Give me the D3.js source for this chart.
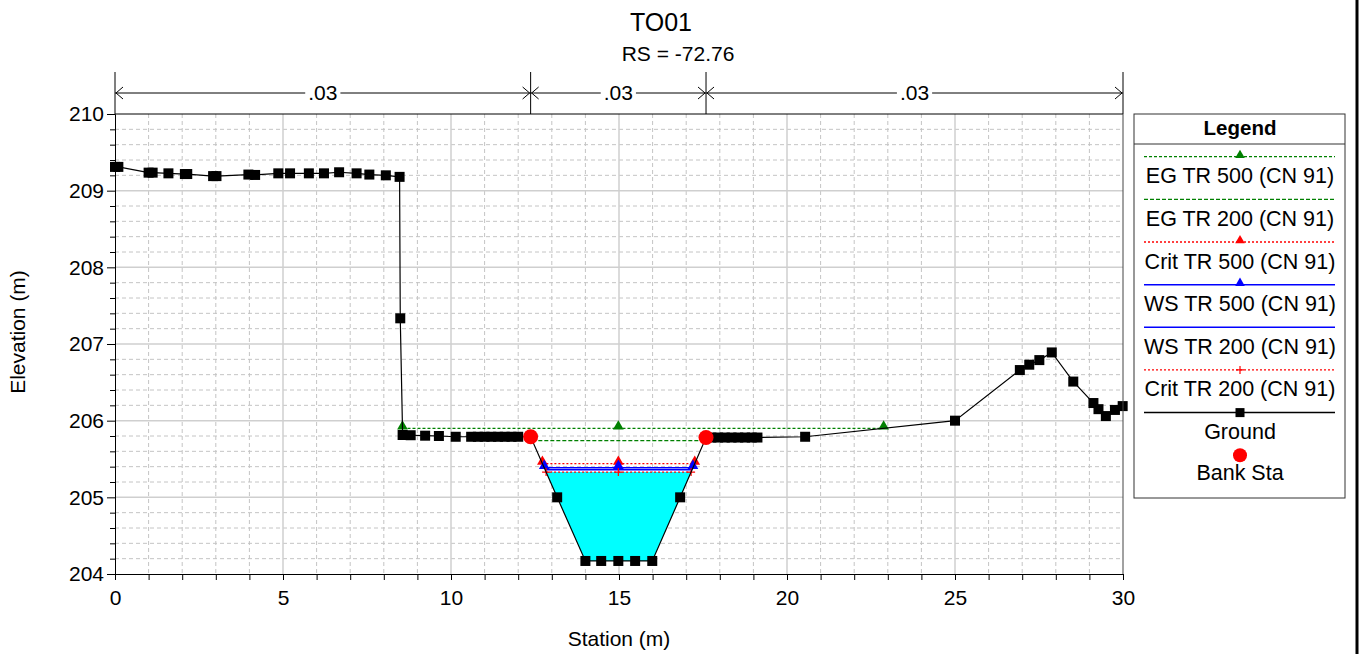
<!DOCTYPE html>
<html><head><meta charset="utf-8">
<script src="https://cdn.jsdelivr.net/npm/d3@7"></script>
<style>
html,body{margin:0;padding:0;background:#fff;}
text{font-family:"Liberation Sans",Arial,sans-serif;}
</style></head>
<body><svg id="c" width="1364" height="654"></svg>
<script>
// ---- data ----
const title = "TO01";
const subtitle = "RS = -72.76";
const xLabel = "Station (m)";
const yLabel = "Elevation (m)";
const groundSta = [0, 0.1, 1.0, 1.12, 1.59, 2.08, 2.15, 2.92, 3.02, 3.97, 4.17, 4.86, 5.21, 5.77, 6.22, 6.67, 7.19, 7.57, 8.06, 8.47, 8.49, 8.56, 8.8, 9.23, 9.64, 10.14, 10.6, 10.8, 11.0, 11.2, 11.4, 11.6, 11.8, 12.0, 12.37, 13.16, 14.0, 14.47, 14.98, 15.48, 15.99, 16.82, 17.59, 17.75, 17.95, 18.15, 18.35, 18.55, 18.75, 18.95, 19.12, 20.54, 25.0, 26.93, 27.21, 27.51, 27.88, 28.52, 29.12, 29.27, 29.49, 29.76, 29.99];
const groundElev = [209.31, 209.31, 209.235, 209.235, 209.226, 209.217, 209.217, 209.19, 209.19, 209.21, 209.205, 209.226, 209.226, 209.226, 209.226, 209.24, 209.226, 209.21, 209.2, 209.18, 207.335, 205.813, 205.81, 205.804, 205.8, 205.79, 205.79, 205.79, 205.79, 205.79, 205.79, 205.79, 205.79, 205.79, 205.79, 205.0, 204.17, 204.17, 204.17, 204.17, 204.17, 205.0, 205.78, 205.78, 205.78, 205.78, 205.78, 205.78, 205.78, 205.78, 205.78, 205.79, 206.0, 206.66, 206.73, 206.79, 206.89, 206.51, 206.23, 206.15, 206.06, 206.14, 206.19];
const bankSta = [12.37, 17.59];
const nValues = [".03", ".03", ".03"];
const nBreaks = [0, 12.37, 17.59, 30];
const profileNames = ["EG TR 500 (CN 91)", "EG TR 200 (CN 91)", "Crit TR 500 (CN 91)", "WS TR 500 (CN 91)", "WS TR 200 (CN 91)", "Crit TR 200 (CN 91)"];
const profileElev = [205.9, 205.74, 205.44, 205.385, 205.36, 205.33];
const profileColor = ["#008000", "#008000", "#ff0000", "#0000ff", "#0000ff", "#ff0000"];
const profileDash = ["3,2", "4,2", "2,2", null, null, "2,2"];
const profileMarker = ["triangle", null, "triangle", "triangle", null, "plus"];
const waterFillElev = 205.33;
const xTicks = [0, 5, 10, 15, 20, 25, 30];
const yTicks = [204, 205, 206, 207, 208, 209, 210];

// ---- setup ----
const svg = d3.select("#c");
const x = d3.scaleLinear().domain([0, 30]).range([115, 1123]);
const y = d3.scaleLinear().domain([204, 210]).range([574, 114]);
const FS = 21;
const FONT = '"Liberation Sans",Arial,sans-serif';

// grid
const g = svg.append("g");
const minorX = d3.range(1, 30).filter(v => v % 5 !== 0);
const minorY = d3.range(204.2, 210, 0.2).filter(v => Math.abs(v - Math.round(v)) > 0.01);
g.selectAll(".mx").data(minorX).join("line")
  .attr("x1", d => x(d)).attr("x2", d => x(d)).attr("y1", y(210)).attr("y2", y(204))
  .attr("stroke", "#c4c4c4").attr("stroke-dasharray", "4,3");
g.selectAll(".my").data(minorY).join("line")
  .attr("x1", x(0)).attr("x2", x(30)).attr("y1", d => y(d)).attr("y2", d => y(d))
  .attr("stroke", "#c4c4c4").attr("stroke-dasharray", "4,3");
g.selectAll(".Mx").data(xTicks.slice(1, -1)).join("line")
  .attr("x1", d => x(d)).attr("x2", d => x(d)).attr("y1", y(210)).attr("y2", y(204))
  .attr("stroke", "#cfcfcf").attr("stroke-width", 1.5);
g.selectAll(".My").data(yTicks.slice(1, -1)).join("line")
  .attr("x1", x(0)).attr("x2", x(30)).attr("y1", d => y(d)).attr("y2", d => y(d))
  .attr("stroke", "#cfcfcf").attr("stroke-width", 1.5);

// water crossing helper
const minI = d3.minIndex(groundElev);
function crossing(level) {
  let i = minI;
  while (i > 0 && groundElev[i] < level) i--;
  const xl = groundSta[i] + (level - groundElev[i]) * (groundSta[i + 1] - groundSta[i]) / (groundElev[i + 1] - groundElev[i]);
  let j = minI;
  while (j < groundSta.length - 1 && groundElev[j] < level) j++;
  const xr = groundSta[j - 1] + (level - groundElev[j - 1]) * (groundSta[j] - groundSta[j - 1]) / (groundElev[j] - groundElev[j - 1]);
  return { xl, xr, li: i, ri: j };
}

// water fill
const wc = crossing(waterFillElev);
const poly = [[wc.xl, waterFillElev]];
for (let k = wc.li + 1; k < wc.ri; k++) poly.push([groundSta[k], groundElev[k]]);
poly.push([wc.xr, waterFillElev]);
svg.append("path").attr("d", d3.line().x(d => x(d[0])).y(d => y(d[1]))(poly) + "Z")
  .attr("fill", "#00ffff");

// profile lines
const chanMid = (bankSta[0] + bankSta[1]) / 2;
function drawMarker(sel, type, cx, cy, color, size) {
  if (type === "triangle") {
    sel.append("path").attr("d", d3.symbol(d3.symbolTriangle, size || 50)())
      .attr("transform", `translate(${cx},${cy - 2})`).attr("fill", color);
  } else if (type === "plus") {
    sel.append("path").attr("d", `M${cx - 4},${cy}H${cx + 4}M${cx},${cy - 4}V${cy + 4}`)
      .attr("stroke", color).attr("stroke-width", 1.2);
  } else if (type === "square") {
    sel.append("rect").attr("x", cx - 4.5).attr("y", cy - 4.5).attr("width", 9).attr("height", 9).attr("fill", color);
  }
}
const pg = svg.append("g");
profileElev.forEach((lev, i) => {
  const c = crossing(lev);
  pg.append("line").attr("x1", x(c.xl)).attr("x2", x(c.xr)).attr("y1", y(lev)).attr("y2", y(lev))
    .attr("stroke", profileColor[i]).attr("stroke-width", profileDash[i] ? 1.3 : 1.5)
    .attr("stroke-dasharray", profileDash[i]);
});
profileElev.forEach((lev, i) => {
  if (!profileMarker[i]) return;
  const c = crossing(lev);
  [c.xl, chanMid, c.xr].forEach(s => drawMarker(pg, profileMarker[i], x(s), y(lev), profileColor[i]));
});

// ground
svg.append("path").datum(groundSta.map((s, i) => [s, groundElev[i]]))
  .attr("d", d3.line().x(d => x(d[0])).y(d => y(d[1])))
  .attr("fill", "none").attr("stroke", "#000").attr("stroke-width", 1.2);
svg.append("g").selectAll("rect").data(groundSta.map((s, i) => [s, groundElev[i]])).join("rect")
  .attr("x", d => x(d[0]) - 5).attr("y", d => y(d[1]) - 5).attr("width", 10).attr("height", 10).attr("fill", "#000");
// bank stations
svg.append("g").selectAll("circle").data(bankSta).join("circle")
  .attr("cx", d => x(d)).attr("cy", d => y(groundElev[groundSta.indexOf(d)]))
  .attr("r", 7.5).attr("fill", "#ff0000");

// axes
const ax = svg.append("g");
ax.append("g").attr("transform", `translate(0,${y(204)})`)
  .call(d3.axisBottom(x).tickValues(minorX).tickSize(6).tickFormat(""))
  .call(s => s.select(".domain").remove());
ax.append("g").attr("transform", `translate(0,${y(204)})`)
  .call(d3.axisBottom(x).tickValues(xTicks).tickSize(6).tickPadding(10).tickFormat(d3.format("d")))
  .call(s => s.selectAll("text").attr("font-size", FS).attr("fill", "#000").style("font-family", FONT));
ax.append("g").attr("transform", `translate(${x(0)},0)`)
  .call(d3.axisLeft(y).tickValues(minorY).tickSize(5).tickFormat(""))
  .call(s => s.select(".domain").remove());
ax.append("g").attr("transform", `translate(${x(0)},0)`)
  .call(d3.axisLeft(y).tickValues(yTicks).tickSize(8).tickPadding(3).tickFormat(d3.format("d")))
  .call(s => s.selectAll("text").attr("font-size", FS).attr("fill", "#000").style("font-family", FONT));
ax.selectAll("path,line").attr("stroke", "#000");
// plot border top/right
svg.append("line").attr("x1", x(0)).attr("x2", x(30)).attr("y1", y(210)).attr("y2", y(210)).attr("stroke", "#000");
svg.append("line").attr("x1", x(30)).attr("x2", x(30)).attr("y1", y(210)).attr("y2", y(204)).attr("stroke", "#444");

// axis titles
svg.append("text").attr("x", 619).attr("y", 646).attr("text-anchor", "middle").attr("font-size", FS).text(xLabel);
svg.append("text").attr("transform", `translate(25,332) rotate(-90)`).attr("text-anchor", "middle").attr("font-size", FS).text(yLabel);

// titles
svg.append("text").attr("x", 661).attr("y", 31).attr("text-anchor", "middle").attr("font-size", 25).text(title);
svg.append("text").attr("x", 678).attr("y", 61).attr("text-anchor", "middle").attr("font-size", FS).text(subtitle);

// Manning's n bar
const nb = svg.append("g");
const nY = 93;
nBreaks.forEach(b => nb.append("line").attr("x1", x(b)).attr("x2", x(b)).attr("y1", 72).attr("y2", y(210)).attr("stroke", "#000"));
nValues.forEach((v, i) => {
  const a = x(nBreaks[i]), b = x(nBreaks[i + 1]);
  nb.append("line").attr("x1", a).attr("x2", b).attr("y1", nY).attr("y2", nY).attr("stroke", "#000");
  nb.append("path").attr("d", `M${a + 8},${nY - 6}L${a + 1},${nY}L${a + 8},${nY + 6}`).attr("fill", "none").attr("stroke", "#000");
  nb.append("path").attr("d", `M${b - 8},${nY - 6}L${b - 1},${nY}L${b - 8},${nY + 6}`).attr("fill", "none").attr("stroke", "#000");
  const t = nb.append("text").attr("x", (a + b) / 2).attr("y", nY + 7).attr("text-anchor", "middle").attr("font-size", FS).text(v);
  const bb = t.node().getBBox();
  nb.insert("rect", () => t.node()).attr("x", bb.x - 3).attr("y", nY - 3).attr("width", bb.width + 6).attr("height", 6).attr("fill", "#fff");
});

// legend
const lg = svg.append("g");
const LX = 1134, LY = 114, LW = 211, LH = 384;
lg.append("rect").attr("x", LX).attr("y", LY).attr("width", LW).attr("height", LH).attr("fill", "#fff").attr("stroke", "#333");
lg.append("line").attr("x1", LX).attr("x2", LX + LW).attr("y1", 144).attr("y2", 144).attr("stroke", "#333");
lg.append("text").attr("x", 1240).attr("y", 135).attr("text-anchor", "middle").attr("font-size", 20.5).attr("font-weight", "bold").text("Legend");
const legNames = profileNames.concat(["Ground"]);
const legColor = profileColor.concat(["#000"]);
const legDash = profileDash.concat([null]);
const legMarker = profileMarker.concat(["square"]);
const step = 42.65;
legNames.forEach((n, i) => {
  const ly = 156.7 + i * step;
  lg.append("line").attr("x1", 1144).attr("x2", 1335).attr("y1", ly).attr("y2", ly)
    .attr("stroke", legColor[i]).attr("stroke-width", legDash[i] ? 1.3 : 1.5).attr("stroke-dasharray", legDash[i]);
  if (legMarker[i]) drawMarker(lg, legMarker[i], 1240, legMarker[i] === "triangle" ? ly + 0.5 : ly, legColor[i], 40);
  lg.append("text").attr("x", 1240).attr("y", ly + 26.5).attr("text-anchor", "middle").attr("font-size", 21.5).text(n);
});
const cy8 = 156.7 + 7 * step;
lg.append("circle").attr("cx", 1240).attr("cy", cy8).attr("r", 7).attr("fill", "#ff0000");
lg.append("text").attr("x", 1240).attr("y", cy8 + 25).attr("text-anchor", "middle").attr("font-size", 21.5).text("Bank Sta");

// window edge
svg.append("line").attr("x1", 1357).attr("x2", 1357).attr("y1", 0).attr("y2", 654).attr("stroke", "#000").attr("stroke-width", 3);
</script></body></html>
